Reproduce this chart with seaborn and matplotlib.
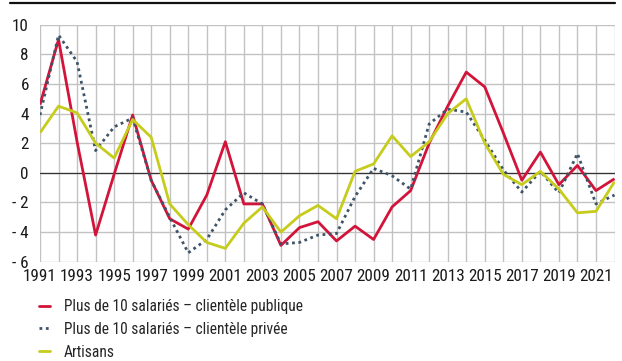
import matplotlib
matplotlib.use("Agg")
import matplotlib.pyplot as plt
from matplotlib import font_manager
from matplotlib.font_manager import FontProperties
import numpy as np
import pandas as pd
import seaborn as sns

years = list(range(1991, 2023))
publique = [4.6, 9.0, 2.1, -4.2, -0.1, 3.9, -0.5, -3.1, -3.8, -1.5, 2.1, -2.1, -2.1,
            -4.9, -3.7, -3.3, -4.6, -3.6, -4.5, -2.3, -1.2, 2.0, 4.5, 6.8, 5.8, 2.7,
            -0.5, 1.4, -0.8, 0.5, -1.2, -0.4]
privee = [3.9, 9.3, 7.5, 1.5, 3.1, 3.7, -0.5, -3.0, -5.4, -4.5, -2.5, -1.35, -2.1,
          -4.8, -4.7, -4.2, -4.1, -1.6, 0.3, -0.2, -1.1, 3.3, 4.3, 4.1, 2.2, 0.2,
          -1.3, 0.1, -1.35, 1.3, -2.1, -1.5]
artisans = [2.7, 4.5, 4.05, 2.0, 1.0, 3.6, 2.4, -2.1, -3.5, -4.7, -5.1, -3.4, -2.3,
            -4.0, -2.9, -2.2, -3.1, 0.1, 0.6, 2.5, 1.1, 2.1, 4.0, 5.0, 2.0, -0.1,
            -0.8, 0.1, -1.1, -2.7, -2.6, -0.6]

series_names = ["Plus de 10 salariés – clientèle publique",
                "Plus de 10 salariés – clientèle privée",
                "Artisans"]
colors = ["#D2143A", "#3E5468", "#C6CC1C"]
y_ticks = [-6, -4, -2, 0, 2, 4, 6, 8, 10]
x_ticks = list(range(1991, 2022, 2))

df = pd.concat([
    pd.DataFrame({"annee": years, "valeur": vals, "serie": name})
    for name, vals in zip(series_names, [publique, privee, artisans])
])

sns.set_style("white")


def pick_narrow_font():
    """Return a regular-weight condensed sans face if one is installed."""
    prefs = ["liberationsansnarrow-regular", "notosans-condensed.", "notosans-condensed",
             "robotocondensed-regular", "opensans_condensed-regular",
             "opensans-condensedregular", "notosans-semicondensed.",
             "notosans-semicondensed", "roboto_condensed-regular"]
    files = [f.fname for f in font_manager.fontManager.ttflist]
    low = {p.lower().split("/")[-1]: p for p in files}
    for pref in prefs:
        for name, path in low.items():
            if name.startswith(pref) and "italic" not in name:
                return path
    for name, path in low.items():
        if ("narrow" in name or "condensed" in name) and not any(
                k in name for k in ("bold", "italic", "light", "thin", "black",
                                    "medium", "semi", "extra", "oblique")):
            return path
    return None


narrow = pick_narrow_font()
if narrow:
    font_manager.fontManager.addfont(narrow)
    fam = FontProperties(fname=narrow).get_name()
    plt.rcParams["font.family"] = [fam, "DejaVu Sans"]
    tick_size, legend_size = 12.3, 11.2
else:
    plt.rcParams["font.family"] = ["Roboto", "DejaVu Sans"]
    tick_size, legend_size = 9.6, 9.4

fig = plt.figure(figsize=(6.22, 3.61), dpi=100)
ax = fig.add_axes([40 / 622, 1 - 261.7 / 361, (614.5 - 40) / 622, (261.7 - 24.7) / 361])

sns.lineplot(data=df, x="annee", y="valeur", hue="serie", style="serie",
             palette=dict(zip(series_names, colors)),
             dashes={series_names[0]: "", series_names[1]: (1.0, 1.3), series_names[2]: ""},
             linewidth=2.0, ax=ax, legend=False, zorder=3)
for line in ax.lines:
    line.set_solid_capstyle("butt")

ax.set_xlim(1991, 2022)
ax.set_ylim(-6, 10)
ax.set_xticks(range(1991, 2023))
ax.set_xticklabels([str(y) if y in x_ticks else "" for y in range(1991, 2023)])
ax.set_yticks(y_ticks)
ax.set_yticklabels([f"- {abs(v)}" if v < 0 else str(v) for v in y_ticks])
ax.grid(True, color="#C2C2C2", linewidth=1.0, zorder=0)
ax.axhline(0, color="#333333", linewidth=0.9, zorder=2)
for s in ax.spines.values():
    s.set_visible(False)
ax.tick_params(axis="both", length=0, labelsize=tick_size, colors="#1a1a1a")
ax.tick_params(axis="x", pad=5)
ax.tick_params(axis="y", pad=8)
ax.set_xlabel("")
ax.set_ylabel("")

# rule across the top
fig.add_artist(plt.Line2D([10 / 622, 615 / 622], [1 - 3.3 / 361] * 2, color="#111111",
                          linewidth=1.6))

handles = [plt.Line2D([], [], color=colors[0], linewidth=2.0),
           plt.Line2D([], [], color=colors[1], linewidth=2.0, linestyle=(0, (1.0, 1.3))),
           plt.Line2D([], [], color=colors[2], linewidth=2.0)]
fig.legend(handles, series_names, loc="upper left",
           bbox_to_anchor=(39 / 622, 1 - 299 / 361), frameon=False,
           fontsize=legend_size, handlelength=0.7, handletextpad=0.9, labelspacing=0.5,
           borderaxespad=0, borderpad=0)

fig.savefig("out.png", dpi=100)
